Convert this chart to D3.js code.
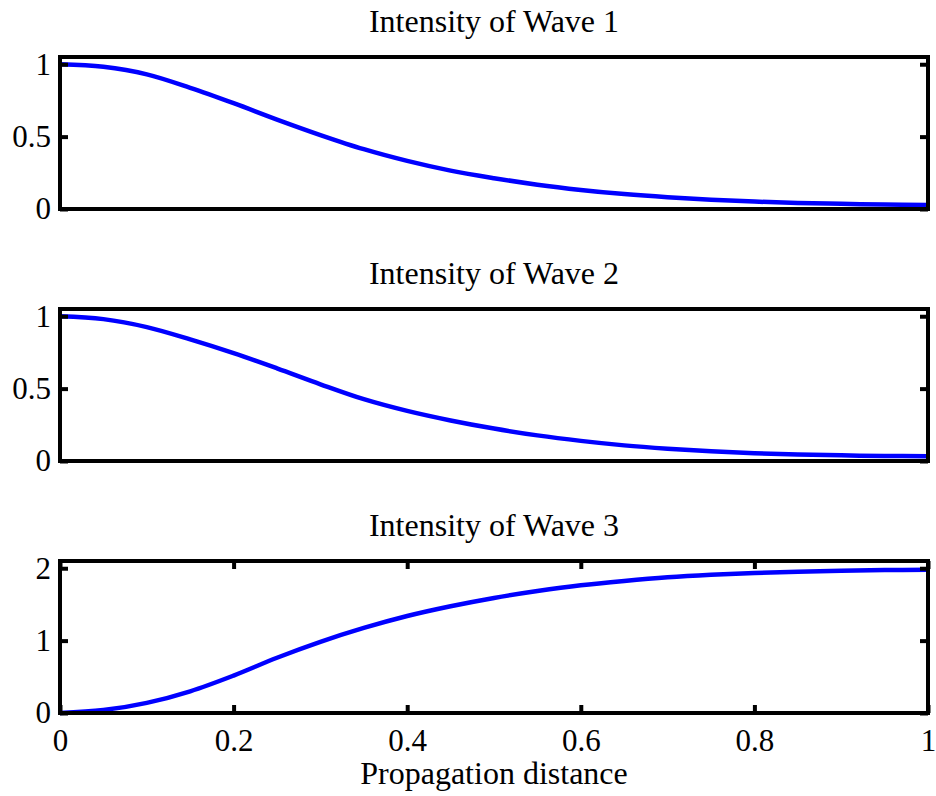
<!DOCTYPE html>
<html>
<head>
<meta charset="utf-8">
<script src="https://cdn.jsdelivr.net/npm/d3@7"></script>
<style>
  body { margin: 0; background: #fff; }
  text { font-family: "Liberation Serif", "Times New Roman", serif; fill: #000; }
</style>
</head>
<body>
<svg width="936" height="796"></svg>
<script>
var distance = [0, 0.05, 0.1, 0.15, 0.2, 0.25, 0.3, 0.35, 0.4, 0.45, 0.5,
                0.55, 0.6, 0.65, 0.7, 0.75, 0.8, 0.85, 0.9, 0.95, 1];
var wave1 = [1.0, 0.982, 0.93, 0.837, 0.731, 0.618, 0.511, 0.413, 0.332, 0.265, 0.213,
             0.168, 0.132, 0.103, 0.081, 0.064, 0.051, 0.042, 0.036, 0.031, 0.028];
var wave2 = [1.0, 0.98, 0.925, 0.84, 0.745, 0.64, 0.53, 0.427, 0.346, 0.28, 0.224,
             0.177, 0.139, 0.108, 0.085, 0.067, 0.054, 0.045, 0.039, 0.035, 0.032];
var wave3 = [0, 0.04, 0.14, 0.30, 0.517, 0.763, 0.983, 1.175, 1.34, 1.475, 1.59,
             1.685, 1.765, 1.825, 1.875, 1.91, 1.935, 1.952, 1.965, 1.974, 1.98];

var titles = ["Intensity of Wave 1", "Intensity of Wave 2", "Intensity of Wave 3"];
var yTicks = [[0, 0.5, 1], [0, 0.5, 1], [0, 1, 2]];
var yMax = [1.05, 1.05, 2.1];
var xTicks = [0, 0.2, 0.4, 0.6, 0.8, 1];

var svg = d3.select("svg"),
    left = 60, right = 928,
    panelTop = 57, panelH = 152, step = 252;

var x = d3.scaleLinear().domain([0, 1]).range([left, right]);

var series = [wave1, wave2, wave3];

series.forEach(function(vals, i) {
    var top = panelTop + i * step,
        bottom = top + panelH;
    var y = d3.scaleLinear().domain([0, yMax[i]]).range([bottom, top]);
    var g = svg.append("g");

    // title
    g.append("text")
        .attr("x", (left + right) / 2)
        .attr("y", top - 25)
        .attr("text-anchor", "middle")
        .style("font-size", "32px")
        .text(titles[i]);

    // the curve
    var line = d3.line()
        .x(function(d, j) { return x(distance[j]); })
        .y(function(d) { return y(d); })
        .curve(d3.curveCatmullRom.alpha(0.5));

    g.append("path")
        .datum(vals)
        .attr("d", line)
        .attr("fill", "none")
        .attr("stroke", "#0000ff")
        .attr("stroke-width", 4.5);

    // y axes, ticks pointing in
    var yl = g.append("g")
        .attr("transform", "translate(" + left + ",0)")
        .call(d3.axisLeft(y).tickValues(yTicks[i]).tickSize(-8).tickPadding(9)
            .tickFormat(d3.format("")));
    var yr = g.append("g")
        .attr("transform", "translate(" + right + ",0)")
        .call(d3.axisRight(y).tickValues(yTicks[i]).tickSize(-8).tickFormat(""));

    var axes = [yl, yr];

    // only the last panel has x ticks
    if (i == 2) {
        var xb = g.append("g")
            .attr("transform", "translate(0," + bottom + ")")
            .call(d3.axisBottom(x).tickValues(xTicks).tickSize(-8).tickPadding(16)
                .tickFormat(d3.format("")));
        var xt = g.append("g")
            .attr("transform", "translate(0," + top + ")")
            .call(d3.axisTop(x).tickValues(xTicks).tickSize(-8).tickFormat(""));
        axes.push(xb, xt);
    }

    axes.forEach(function(a) {
        a.select(".domain").remove();
        a.selectAll(".tick line").attr("stroke", "#000").attr("stroke-width", 4);
        a.selectAll(".tick text")
            .style("font-family", "'Liberation Serif', 'Times New Roman', serif")
            .style("font-size", "31px");
    });

    // box
    g.append("rect")
        .attr("x", left)
        .attr("y", top)
        .attr("width", right - left)
        .attr("height", bottom - top)
        .attr("fill", "none")
        .attr("stroke", "#000")
        .attr("stroke-width", 4);
});

svg.append("text")
    .attr("x", (left + right) / 2)
    .attr("y", 784)
    .attr("text-anchor", "middle")
    .style("font-size", "32px")
    .text("Propagation distance");
</script>
</body>
</html>
